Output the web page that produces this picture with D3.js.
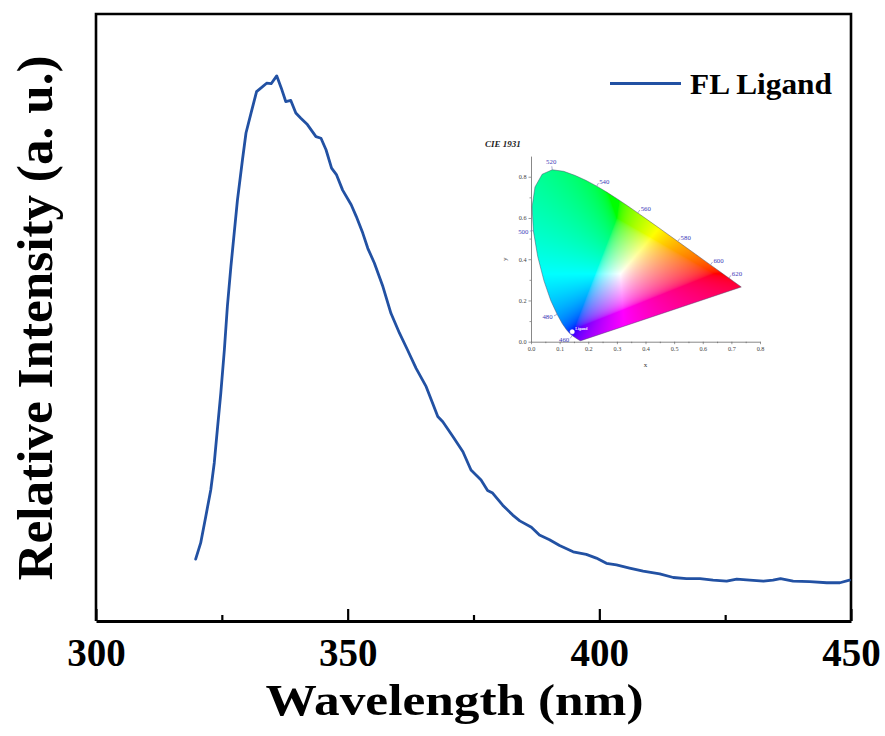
<!DOCTYPE html>
<html>
<head>
<meta charset="utf-8">
<script src="https://cdn.jsdelivr.net/npm/d3@7"></script>
<style>
  html, body { margin: 0; padding: 0; background: #fff; }
  svg { display: block; }
</style>
</head>
<body>
<svg id="chart" width="885" height="736"></svg>
<script>
// ---- Fluorescence spectrum of the ligand ----
const wavelength = [
  319.8, 320.8, 321.8, 322.8, 323.5, 324.1, 324.8, 325.5, 326.1, 326.8,
  328.1, 329.1, 329.8, 330.8, 331.9, 332.8, 333.9, 334.8, 335.9, 336.8,
  337.7, 338.7, 339.7, 340.7, 342.0, 343.7, 344.7, 345.7, 346.8, 347.8,
  349.0, 350.7, 351.7, 353.0, 354.0, 355.3, 357.0, 358.6, 360.3, 361.9,
  363.6, 365.6, 366.9, 367.9, 368.9, 370.9, 372.9, 374.5, 376.5, 377.8,
  378.8, 380.8, 382.8, 384.2, 386.5, 388.1, 390.1, 392.1, 394.8, 397.4,
  399.4, 401.4, 403.4, 406.0, 408.7, 412.0, 414.7, 417.3, 420.0, 422.6,
  425.3, 427.3, 429.9, 432.6, 434.5, 436.0, 438.5, 441.8, 445.2, 447.8,
  449.7
];
const intensity = [
  0.078, 0.109, 0.159, 0.210, 0.262, 0.324, 0.395, 0.477, 0.560, 0.636,
  0.763, 0.840, 0.891, 0.929, 0.970, 0.977, 0.986, 0.985, 1.000, 0.977,
  0.951, 0.953, 0.929, 0.919, 0.907, 0.884, 0.881, 0.859, 0.824, 0.811,
  0.782, 0.754, 0.732, 0.700, 0.671, 0.643, 0.598, 0.547, 0.509, 0.477,
  0.442, 0.407, 0.375, 0.350, 0.340, 0.312, 0.283, 0.248, 0.229, 0.209,
  0.204, 0.181, 0.162, 0.151, 0.139, 0.124, 0.115, 0.104, 0.092, 0.087,
  0.080, 0.070, 0.067, 0.061, 0.055, 0.050, 0.043, 0.041, 0.041, 0.038,
  0.036, 0.040, 0.038, 0.036, 0.038, 0.041, 0.036, 0.035, 0.033, 0.033,
  0.038
];
const seriesName = "FL Ligand";
const xMajorTicks = [300, 350, 400, 450];
const xMinorTicks = [325, 375, 425];
const xTitle = "Wavelength (nm)";
const yTitle = "Relative Intensity (a. u.)";

// ---- CIE 1931 spectral locus (chromaticity of monochromatic light) ----
const locusNm = [380, 390, 400, 410, 420, 430, 440, 450, 460, 465, 470, 475, 480, 485, 490, 495,
  500, 505, 510, 515, 520, 525, 530, 535, 540, 545, 550, 555, 560, 565, 570, 575, 580, 585,
  590, 595, 600, 605, 610, 615, 620, 630, 640, 650, 660, 680, 700];
const locusX = [0.1741, 0.1738, 0.1733, 0.1726, 0.1714, 0.1689, 0.1644, 0.1566, 0.1440, 0.1355,
  0.1241, 0.1096, 0.0913, 0.0687, 0.0454, 0.0235, 0.0082, 0.0039, 0.0139, 0.0389, 0.0743,
  0.1142, 0.1547, 0.1929, 0.2296, 0.2658, 0.3016, 0.3373, 0.3731, 0.4087, 0.4441, 0.4788,
  0.5125, 0.5448, 0.5752, 0.6029, 0.6270, 0.6482, 0.6658, 0.6801, 0.6915, 0.7079, 0.7190,
  0.7260, 0.7300, 0.7334, 0.7347];
const locusY = [0.0050, 0.0049, 0.0048, 0.0048, 0.0051, 0.0069, 0.0109, 0.0177, 0.0297, 0.0399,
  0.0578, 0.0868, 0.1327, 0.2007, 0.2950, 0.4127, 0.5384, 0.6548, 0.7502, 0.8120, 0.8338,
  0.8262, 0.8059, 0.7816, 0.7543, 0.7243, 0.6923, 0.6589, 0.6245, 0.5896, 0.5547, 0.5202,
  0.4866, 0.4544, 0.4242, 0.3965, 0.3725, 0.3514, 0.3340, 0.3197, 0.3083, 0.2920, 0.2809,
  0.2740, 0.2700, 0.2666, 0.2653];
const locusLabelNm = [460, 480, 500, 520, 540, 560, 580, 600, 620];
const cieXTicks = [0, 0.1, 0.2, 0.3, 0.4, 0.5, 0.6, 0.7, 0.8];
const cieYTicks = [0, 0.2, 0.4, 0.6, 0.8];
const cieYMinor = [0.1, 0.3, 0.5, 0.7];
const cieXMinor = [0.05, 0.15, 0.25, 0.35, 0.45, 0.55, 0.65, 0.75];
const whitePoint = [0.3333, 0.3333];
const ligandXY = [0.144, 0.048];
const ligandName = "Ligand";
const cieTitle = "CIE 1931";

const serif = "'Liberation Serif', 'Times New Roman', Times, serif";
const lineBlue = "#2251a3";

const svg = d3.select("#chart");
svg.append("rect").attr("width", 885).attr("height", 736).attr("fill", "#fff");

// ---- Main spectrum plot ----
const x = d3.scaleLinear().domain([300, 450]).range([96, 851]);
const y = d3.scaleLinear().domain([-0.04, 1.118]).range([621, 14]);

const [xl, xr] = x.range();
const [yb, yt] = y.range();

// frame: top, left, right
svg.append("path")
  .attr("d", `M${xl},${yb}V${yt}H${xr}V${yb}`)
  .attr("fill", "none").attr("stroke", "#000").attr("stroke-width", 2.6);

// bottom axis with inward ticks
const xAxis = svg.append("g").attr("transform", `translate(0,${yb})`)
  .call(d3.axisBottom(x).tickValues(xMajorTicks).tickFormat(d3.format("d"))
    .tickSizeInner(-12).tickSizeOuter(0).tickPadding(17));
xAxis.select(".domain").attr("stroke-width", 3.2);
xAxis.selectAll(".tick line").attr("stroke-width", 2.2);
xAxis.selectAll(".tick text")
  .attr("font-family", serif).attr("font-weight", "bold").attr("font-size", 39).attr("fill", "#000");

const xMinor = svg.append("g").attr("transform", `translate(0,${yb})`)
  .call(d3.axisBottom(x).tickValues(xMinorTicks).tickFormat("").tickSizeInner(-6).tickSizeOuter(0));
xMinor.select(".domain").remove();
xMinor.selectAll(".tick line").attr("stroke-width", 2.2);

// spectrum line
svg.append("path")
  .datum(wavelength.map((w, i) => [w, intensity[i]]))
  .attr("fill", "none").attr("stroke", lineBlue).attr("stroke-width", 2.8)
  .attr("stroke-linejoin", "round").attr("stroke-linecap", "round")
  .attr("d", d3.line().x(d => x(d[0])).y(d => y(d[1])));

// axis titles
svg.append("text").text(xTitle)
  .attr("x", (xl + xr) / 2 - 19).attr("y", 715).attr("text-anchor", "middle")
  .attr("textLength", 378).attr("lengthAdjust", "spacingAndGlyphs")
  .attr("font-family", serif).attr("font-weight", "bold").attr("font-size", 45);
svg.append("text").text(yTitle)
  .attr("transform", `translate(52,${318}) rotate(-90)`).attr("text-anchor", "middle")
  .attr("textLength", 525).attr("lengthAdjust", "spacingAndGlyphs")
  .attr("font-family", serif).attr("font-weight", "bold").attr("font-size", 50);

// legend
svg.append("line").attr("x1", 610).attr("x2", 681).attr("y1", 83.5).attr("y2", 83.5)
  .attr("stroke", lineBlue).attr("stroke-width", 3);
svg.append("text").text(seriesName).attr("x", 690).attr("y", 93.5)
  .attr("textLength", 142).attr("lengthAdjust", "spacingAndGlyphs")
  .attr("font-family", serif).attr("font-weight", "bold").attr("font-size", 30);

// ---- CIE 1931 chromaticity inset ----
const cx = d3.scaleLinear().domain([0, 0.8]).range([531, 760]);
const cy = d3.scaleLinear().domain([0, 0.9]).range([341.7, 156.1]);

const locusPts = locusNm.map((n, i) => [cx(locusX[i]), cy(locusY[i])]);

const defs = svg.append("defs");
defs.append("clipPath").attr("id", "gamut")
  .append("path").attr("d", d3.line()(locusPts) + "Z");

// colour fill rendered per pixel from xy chromaticity
(function renderGamut() {
  const ss = 3;
  const gx0 = Math.floor(cx(0)), gx1 = Math.ceil(cx(0.75));
  const gy0 = Math.floor(cy(0.86)), gy1 = Math.ceil(cy(0));
  const W = gx1 - gx0, H = gy1 - gy0;
  const canvas = document.createElement("canvas");
  canvas.width = W * ss; canvas.height = H * ss;
  const ctx = canvas.getContext("2d");
  const img = ctx.createImageData(canvas.width, canvas.height);
  const gam = c => c <= 0.0031308 ? 12.92 * c : 1.055 * Math.pow(c, 1 / 2.4) - 0.055;
  for (let j = 0; j < canvas.height; j++) {
    const cyv = cy.invert(gy0 + (j + 0.5) / ss);
    for (let i = 0; i < canvas.width; i++) {
      const cxv = cx.invert(gx0 + (i + 0.5) / ss);
      const k = (j * canvas.width + i) * 4;
      const yy = Math.max(cyv, 0.002);
      const X = cxv / yy, Y = 1, Z = (1 - cxv - yy) / yy;
      let r = 3.2406 * X - 1.5372 * Y - 0.4986 * Z;
      let g = -0.9689 * X + 1.8758 * Y + 0.0415 * Z;
      let b = 0.0557 * X - 0.2040 * Y + 1.0570 * Z;
      // partial desaturation of out-of-gamut colours, then clip
      const lo = Math.min(r, g, b, 0) * 0.5;
      r = Math.max(r - lo, 0); g = Math.max(g - lo, 0); b = Math.max(b - lo, 0);
      const m = Math.max(r, g, b) || 1;
      img.data[k] = Math.round(255 * gam(r / m));
      img.data[k + 1] = Math.round(255 * gam(g / m));
      img.data[k + 2] = Math.round(255 * gam(b / m));
      img.data[k + 3] = 255;
    }
  }
  ctx.putImageData(img, 0, 0);
  svg.append("image")
    .attr("href", canvas.toDataURL())
    .attr("x", gx0).attr("y", gy0).attr("width", W).attr("height", H)
    .attr("preserveAspectRatio", "none")
    .attr("clip-path", "url(#gamut)");
})();

// locus outline
svg.append("path").attr("d", d3.line()(locusPts) + "Z")
  .attr("fill", "none").attr("stroke", "#4a4a6a").attr("stroke-width", 0.6).attr("stroke-opacity", 0.8);

// inset axes
const insetTick = g => {
  g.select(".domain").attr("stroke", "#555").attr("stroke-width", 0.7);
  g.selectAll(".tick line").attr("stroke", "#555").attr("stroke-width", 0.6);
  g.selectAll(".tick text").attr("font-family", serif).attr("font-size", 6.2).attr("fill", "#444");
};
svg.append("g").attr("transform", `translate(0,${cy(0)})`)
  .call(d3.axisBottom(cx).tickValues(cieXTicks).tickFormat(d3.format(".1f")).tickSizeInner(2.5).tickSizeOuter(0).tickPadding(2))
  .call(insetTick);
svg.append("g").attr("transform", `translate(0,${cy(0)})`)
  .call(d3.axisBottom(cx).tickValues(cieXMinor).tickFormat("").tickSizeInner(1.5).tickSizeOuter(0))
  .call(g => g.select(".domain").remove()).call(insetTick);
svg.append("g").attr("transform", `translate(${cx(0)},0)`)
  .call(d3.axisLeft(cy).tickValues(cieYTicks).tickFormat(d3.format(".1f")).tickSizeInner(2.5).tickSizeOuter(0).tickPadding(2))
  .call(insetTick);
svg.append("g").attr("transform", `translate(${cx(0)},0)`)
  .call(d3.axisLeft(cy).tickValues(cieYMinor).tickFormat("").tickSizeInner(1.5).tickSizeOuter(0))
  .call(g => g.select(".domain").remove()).call(insetTick);

svg.append("text").text("x").attr("x", (cx(0) + cx(0.8)) / 2).attr("y", cy(0) + 25)
  .attr("text-anchor", "middle").attr("font-family", serif).attr("font-size", 7).attr("fill", "#333");
svg.append("text").text("y").attr("transform", `translate(${cx(0) - 24},${cy(0.4)}) rotate(-90)`)
  .attr("text-anchor", "middle").attr("font-family", serif).attr("font-size", 7).attr("fill", "#333");
svg.append("text").text(cieTitle).attr("x", 485).attr("y", 147)
  .attr("font-family", serif).attr("font-weight", "bold").attr("font-style", "italic")
  .attr("font-size", 9).attr("fill", "#222");

// wavelength markers on the locus, placed along the outward normal
const wp = [cx(whitePoint[0]), cy(whitePoint[1])];
locusLabelNm.forEach(nm => {
  const i = locusNm.indexOf(nm);
  const p = locusPts[i], a = locusPts[i - 1], b = locusPts[i + 1];
  let nx = b[1] - a[1], ny = -(b[0] - a[0]);
  const len = Math.hypot(nx, ny);
  nx /= len; ny /= len;
  if (nx * (p[0] - wp[0]) + ny * (p[1] - wp[1]) < 0) { nx = -nx; ny = -ny; }
  svg.append("line")
    .attr("x1", p[0]).attr("y1", p[1]).attr("x2", p[0] + nx * 3.5).attr("y2", p[1] + ny * 3.5)
    .attr("stroke", "#7070b0").attr("stroke-width", 0.6);
  const side = Math.abs(nx) < 0.4 ? "middle" : (nx > 0 ? "start" : "end");
  const off = side === "middle" ? 8 : 5;
  svg.append("text").text(nm)
    .attr("x", p[0] + nx * off).attr("y", p[1] + ny * off).attr("dy", "0.35em")
    .attr("text-anchor", side).attr("font-family", serif).attr("font-size", 6.8)
    .attr("fill", "#3a3ab8");
});

// ligand chromaticity point
svg.append("circle").attr("cx", cx(ligandXY[0])).attr("cy", cy(ligandXY[1])).attr("r", 2.3)
  .attr("fill", "#fff").attr("stroke", "#eef").attr("stroke-width", 0.4);
svg.append("text").text(ligandName)
  .attr("x", cx(ligandXY[0]) + 3).attr("y", cy(ligandXY[1]) - 2)
  .attr("font-family", serif).attr("font-weight", "bold").attr("font-size", 4).attr("fill", "#fff");
</script>
</body>
</html>
